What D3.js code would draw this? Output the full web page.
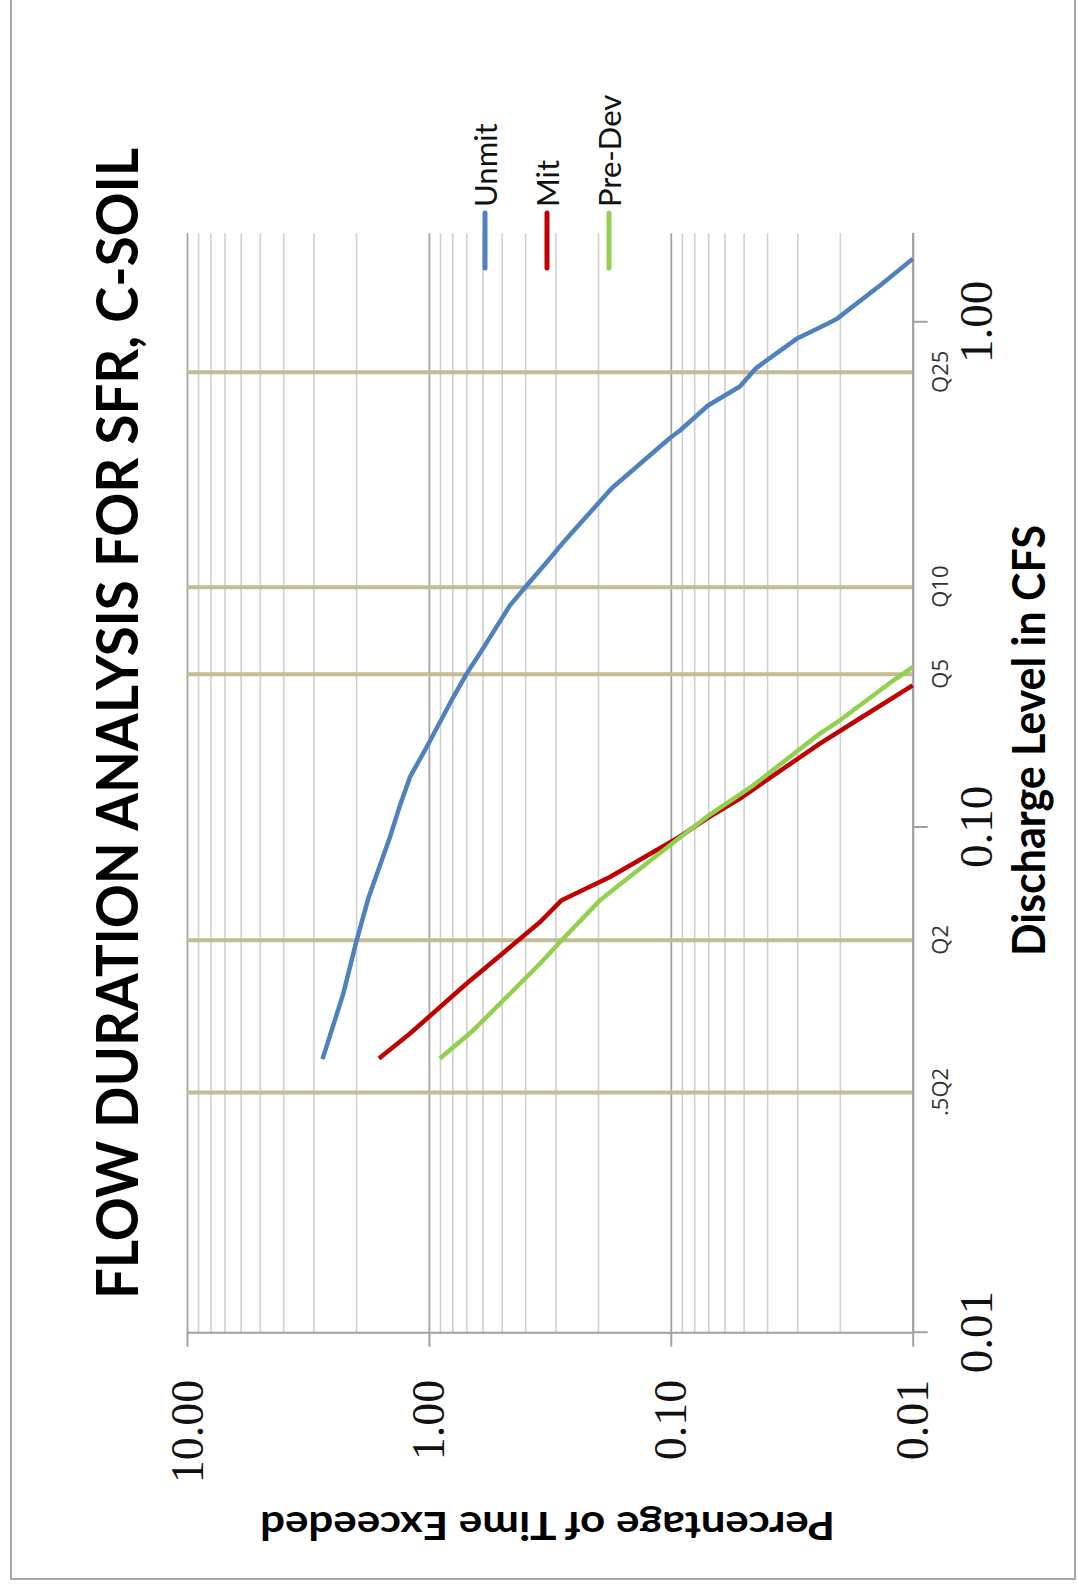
<!DOCTYPE html>
<html>
<head>
<meta charset="utf-8">
<script src="https://cdn.jsdelivr.net/npm/d3@7"></script>
<style>
  html, body { margin: 0; padding: 0; background: #fff; }
  svg { display: block; }
</style>
</head>
<body>
<svg id="chart" width="1078" height="1588"></svg>
<script>
// ---- data -------------------------------------------------------------
const seriesNames = ["Unmit", "Mit", "Pre-Dev"];
const seriesColors = ["#4f81bd", "#c00000", "#92d050"];

// discharge (cfs) and percentage of time exceeded, one pair of arrays per series
const unmitQ = [0.0348, 0.0469, 0.0598, 0.0724, 0.0958, 0.1106, 0.1259, 0.1443, 0.1812, 0.2016,
                0.2241, 0.2752, 0.3013, 0.3350, 0.3700, 0.4699, 0.5901, 0.6106, 0.6842, 0.7461,
                0.8116, 0.9272, 0.9954, 1.0156, 1.182, 1.335];
const unmitP = [2.753, 2.259, 1.989, 1.780, 1.448, 1.317, 1.197, 1.021, 0.7925, 0.6979,
                0.6048, 0.4622, 0.3942, 0.3258, 0.2739, 0.1750, 0.1008, 0.0916, 0.0702, 0.0518,
                0.0444, 0.0302, 0.0223, 0.0206, 0.01365, 0.0100];

const mitQ = [0.0349, 0.0391, 0.0491, 0.0650, 0.0718, 0.0798, 0.0951, 0.1041, 0.1141, 0.1466, 0.1630, 0.1911];
const mitP = [1.608, 1.197, 0.698, 0.347, 0.2825, 0.1784, 0.0945, 0.0711, 0.0518, 0.0242, 0.0170, 0.0100];

const preQ = [0.0349, 0.0397, 0.0538, 0.0603, 0.0718, 0.0763, 0.0922, 0.1049, 0.1212, 0.1534, 0.1630, 0.1956, 0.2077];
const preP = [0.900, 0.655, 0.347, 0.278, 0.196, 0.167, 0.1008, 0.0711, 0.0456, 0.0242, 0.0200, 0.0120, 0.0100];

// flow-frequency reference discharges
const refLabels = [".5Q2", "Q2", "Q5", "Q10", "Q25"];
const refValues = [0.0299, 0.0598, 0.201, 0.299, 0.796];

// axis ticks
const dischargeTicks = [0.01, 0.1, 1];
const percentTicks = [10, 1, 0.1, 0.01];

const titleText = "FLOW DURATION ANALYSIS FOR SFR, C-SOIL";
const xTitle = "Discharge Level in CFS";
const yTitle = "Percentage of Time Exceeded";

// ---- layout -----------------------------------------------------------
const W = 1078, H = 1588;
const svg = d3.select("#chart");

// page frame
svg.append("rect")
  .attr("x", 11).attr("y", -4).attr("width", 1064).attr("height", 1583)
  .attr("fill", "none").attr("stroke", "#a8a8a8").attr("stroke-width", 2);

// the chart is laid out landscape and turned a quarter turn counter-clockwise
const g = svg.append("g").attr("transform", `translate(0,${H}) rotate(-90)`);

const plot = { left: 255.3, right: 1354.7, top: 187, bottom: 912.7 };

const x = d3.scaleLog().domain([0.01, 1.5]).range([plot.left, plot.right]);
const y = d3.scaleLog().domain([10, 0.01]).range([plot.top, plot.bottom]);

// gridlines on the percentage axis
const minorVals = [];
[-2, -1, 0].forEach(e => { for (let k = 2; k <= 9; k++) minorVals.push(k * Math.pow(10, e)); });

g.append("g")
  .attr("transform", `translate(${plot.left},0)`)
  .call(d3.axisLeft(y).tickValues(minorVals).tickSize(-(plot.right - plot.left)).tickFormat(""))
  .call(a => a.select(".domain").remove())
  .call(a => a.selectAll("line").attr("stroke", "#d0d0d0").attr("stroke-width", 1.6));

g.append("g")
  .attr("transform", `translate(${plot.left},0)`)
  .call(d3.axisLeft(y).tickValues(percentTicks).tickSize(-(plot.right - plot.left)).tickFormat(""))
  .call(a => a.select(".domain").remove())
  .call(a => a.selectAll("line").attr("stroke", "#a3a3a3").attr("stroke-width", 1.8));

// reference discharge lines
g.append("g").selectAll("line")
  .data(refValues)
  .join("line")
  .attr("x1", d => x(d)).attr("x2", d => x(d))
  .attr("y1", plot.top).attr("y2", plot.bottom)
  .attr("stroke", "#c4bc96").attr("stroke-width", 4);

// axes
const xAxis = g.append("g")
  .attr("transform", `translate(0,${plot.bottom})`)
  .call(d3.axisBottom(x).tickValues(dischargeTicks).tickSizeInner(15).tickSizeOuter(0)
    .tickFormat(d3.format(".2f")));
xAxis.select(".domain").attr("stroke", "#a0a0a0").attr("stroke-width", 2);
xAxis.selectAll(".tick line").attr("stroke", "#a0a0a0").attr("stroke-width", 2);
xAxis.selectAll(".tick text")
  .attr("y", 79).attr("dy", 0)
  .attr("font-family", "'Liberation Serif', serif").attr("font-size", 47).attr("fill", "#111");

const yAxis = g.append("g")
  .attr("transform", `translate(${plot.left},0)`)
  .call(d3.axisLeft(y).tickValues(percentTicks).tickSize(14).tickPadding(33).tickFormat(d3.format(".2f")));
yAxis.select(".domain").attr("stroke", "#a0a0a0").attr("stroke-width", 2)
  .attr("d", `M0,${plot.top}V${plot.bottom}`);
yAxis.selectAll(".tick line").attr("stroke", "#a0a0a0").attr("stroke-width", 2);
yAxis.selectAll(".tick text")
  .attr("dy", 0).attr("y", 15)
  .attr("font-family", "'Liberation Serif', serif").attr("font-size", 46).attr("fill", "#111");

// reference labels beneath the discharge axis
const refAxis = g.append("g")
  .attr("transform", `translate(0,${plot.bottom})`)
  .call(d3.axisBottom(x).tickValues(refValues).tickSize(0).tickFormat((d, i) => refLabels[i]));
refAxis.select(".domain").remove();
refAxis.selectAll(".tick text")
  .attr("y", 35).attr("dy", 0)
  .attr("font-family", "'Open Sans', Lato, sans-serif").attr("font-weight", 400)
  .attr("font-size", 22).attr("fill", "#333");

// series
const series = [
  { name: seriesNames[0], color: seriesColors[0], q: unmitQ, p: unmitP },
  { name: seriesNames[1], color: seriesColors[1], q: mitQ, p: mitP },
  { name: seriesNames[2], color: seriesColors[2], q: preQ, p: preP }
];
const line = d3.line().x(d => x(d[0])).y(d => y(d[1]));
g.append("g").selectAll("path")
  .data(series)
  .join("path")
  .attr("d", s => line(s.q.map((q, i) => [q, s.p[i]])))
  .attr("fill", "none")
  .attr("stroke", s => s.color)
  .attr("stroke-width", 4.5)
  .attr("stroke-linejoin", "round");

// legend
const legend = g.append("g");
const legItem = legend.selectAll("g")
  .data(series)
  .join("g")
  .attr("transform", (s, i) => `translate(1320,${485 + i * 62})`);
legItem.append("line")
  .attr("x1", 0).attr("x2", 55).attr("y1", 0).attr("y2", 0)
  .attr("stroke", s => s.color).attr("stroke-width", 5).attr("stroke-linecap", "round");
legItem.append("text")
  .attr("x", 61).attr("y", 12)
  .attr("font-family", "Lato, 'Open Sans', sans-serif").attr("font-size", 31).attr("fill", "#111")
  .text(s => s.name);

// titles
g.append("text")
  .attr("x", 864.5).attr("y", 138)
  .attr("text-anchor", "middle")
  .attr("font-family", "Lato, 'Open Sans', sans-serif").attr("font-weight", 700)
  .attr("font-size", 57).attr("fill", "#000")
  .attr("textLength", 1151).attr("lengthAdjust", "spacingAndGlyphs")
  .text(titleText);

g.append("text")
  .attr("x", 847.5).attr("y", 1045)
  .attr("text-anchor", "middle")
  .attr("font-family", "Lato, 'Open Sans', sans-serif").attr("font-weight", 700)
  .attr("font-size", 46).attr("fill", "#000")
  .attr("textLength", 431).attr("lengthAdjust", "spacingAndGlyphs")
  .text(xTitle);

g.append("text")
  .attr("transform", `translate(76,547.5) rotate(-90)`)
  .attr("text-anchor", "middle")
  .attr("font-family", "Lato, 'Open Sans', sans-serif").attr("font-weight", 700)
  .attr("font-size", 39).attr("fill", "#000")
  .attr("textLength", 575).attr("lengthAdjust", "spacingAndGlyphs")
  .text(yTitle);
</script>
</body>
</html>
